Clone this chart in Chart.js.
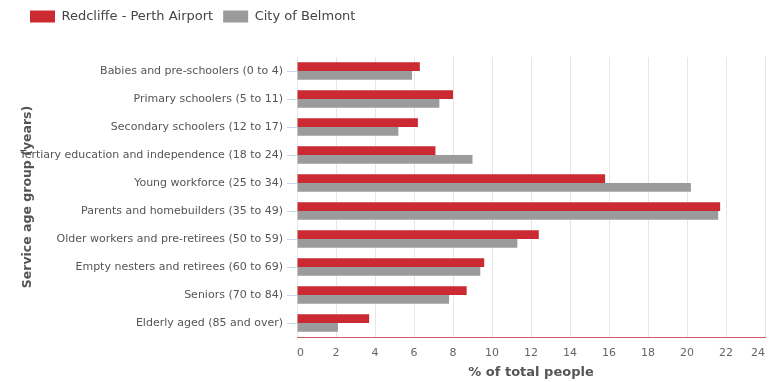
<!DOCTYPE html>
<html>
<head>
<meta charset="utf-8">
<script src="https://cdn.jsdelivr.net/npm/chart.js@4"></script>
<style>
  html, body { margin: 0; padding: 0; background: #fff; overflow: hidden; }
  #wrap { width: 775px; height: 382px; }
</style>
</head>
<body>
<div id="wrap"><canvas id="chart"></canvas></div>
<script>
    // Age groups and % of total people
    const categories = [
      'Babies and pre-schoolers (0 to 4)',
      'Primary schoolers (5 to 11)',
      'Secondary schoolers (12 to 17)',
      'Tertiary education and independence (18 to 24)',
      'Young workforce (25 to 34)',
      'Parents and homebuilders (35 to 49)',
      'Older workers and pre-retirees (50 to 59)',
      'Empty nesters and retirees (60 to 69)',
      'Seniors (70 to 84)',
      'Elderly aged (85 and over)'
    ];
    const redcliffe = [6.3, 8.0, 6.2, 7.1, 15.8, 21.7, 12.4, 9.6, 8.7, 3.7];
    const belmont = [5.9, 7.3, 5.2, 9.0, 20.2, 21.6, 11.3, 9.4, 7.8, 2.1];

    Chart.defaults.font.family = '"DejaVu Sans", sans-serif';
    Chart.defaults.color = '#666';

    // push the plot down below the legend
    const legendGap = {
      id: 'legendGap',
      beforeInit(chart) {
        const fit = chart.legend.fit;
        chart.legend.fit = function () {
          fit.bind(chart.legend)();
          this.height += 24;
        };
      }
    };

    const chart = new Chart(document.getElementById('chart'), {
      type: 'bar',
      data: {
        labels: categories,
        datasets: [
          {
            label: 'Redcliffe - Perth Airport',
            data: redcliffe,
            backgroundColor: '#cc2a32',
            barPercentage: 1,
            categoryPercentage: 0.62
          },
          {
            label: 'City of Belmont',
            data: belmont,
            backgroundColor: '#9b9b9b',
            barPercentage: 1,
            categoryPercentage: 0.62
          }
        ]
      },
      options: {
        indexAxis: 'y',
        responsive: true,
        maintainAspectRatio: false,
        animation: false,
        layout: { padding: { left: 20, right: 0, top: 0, bottom: 2 } },
        plugins: {
          legend: {
            align: 'start',
            labels: {
              boxWidth: 25,
              boxHeight: 12,
              padding: 10,
              color: '#444',
              font: { size: 13 }
            }
          },
          tooltip: { enabled: false }
        },
        scales: {
          x: {
            min: 0,
            max: 24,
            afterFit: (scale) => { scale.height = 43; },
            ticks: { stepSize: 2, align: 'inner', padding: 10, color: '#666', font: { size: 11 } },
            grid: { color: '#e6e6e6', drawTicks: false },
            border: { color: '#cc5a60', width: 1 },
            title: {
              display: true,
              text: '% of total people',
              color: '#555',
              font: { size: 13, weight: 'bold' },
              padding: { top: 2, bottom: 0 }
            }
          },
          y: {
            afterFit: (scale) => { scale.width = 277; },
            ticks: { padding: 4, color: '#555', font: { size: 11 } },
            grid: { drawOnChartArea: false, offset: false, color: '#ccd6eb', tickLength: 10 },
            border: { display: false },
            title: {
              display: true,
              text: 'Service age group (years)',
              color: '#555',
              font: { size: 12.5, weight: 'bold' },
              padding: { top: 0, bottom: 0 }
            }
          }
        }
      },
      plugins: [legendGap]
    });
</script>
</body>
</html>
